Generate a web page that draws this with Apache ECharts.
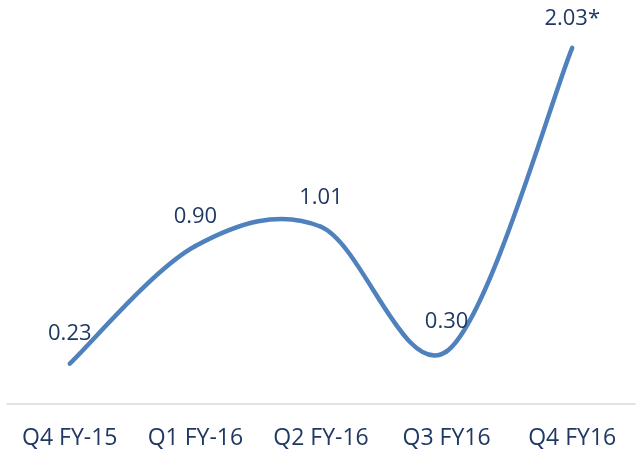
<!DOCTYPE html>
<html><head><meta charset="utf-8">
<script src="https://cdn.jsdelivr.net/npm/echarts@6/dist/echarts.min.js"></script>
<style>html,body{margin:0;padding:0;background:#fff}#c{width:641px;height:453px}</style>
</head><body><div id="c"></div>
<script>
var categories = ['Q4 FY-15', 'Q1 FY-16', 'Q2 FY-16', 'Q3 FY16', 'Q4 FY16'];
var values = [0.23, 0.90, 1.01, 0.30, 2.03];
var labelSuffix = ['', '', '', '', '*'];

var textColor = '#1f3864';
var lineColor = '#4f81bd';

function pt(api, j) {
  j = Math.max(0, Math.min(values.length - 1, j));
  return api.coord([j, values[j]]);
}

// Excel-style smoothed line: cubic Bezier segments with Catmull-Rom tangents (1/6)
function renderSegment(params, api) {
  var i = params.dataIndex;
  if (i >= values.length - 1) return null;
  var p0 = pt(api, i - 1), p1 = pt(api, i), p2 = pt(api, i + 1), p3 = pt(api, i + 2);
  return {
    type: 'bezierCurve',
    shape: {
      x1: p1[0], y1: p1[1],
      cpx1: p1[0] + (p2[0] - p0[0]) / 6, cpy1: p1[1] + (p2[1] - p0[1]) / 6,
      cpx2: p2[0] - (p3[0] - p1[0]) / 6, cpy2: p2[1] - (p3[1] - p1[1]) / 6,
      x2: p2[0], y2: p2[1]
    },
    style: {stroke: lineColor, lineWidth: 4.5, fill: null, lineCap: 'round', lineJoin: 'round'}
  };
}

var chart = echarts.init(document.getElementById('c'), null, {renderer: 'canvas'});
chart.setOption({
  animation: false,
  grid: {left: 7, right: 6, top: 18, bottom: 49, containLabel: false},
  xAxis: {
    type: 'category', data: categories, boundaryGap: true,
    axisLine: {show: true, lineStyle: {color: '#d9d9d9', width: 1.5}},
    axisTick: {show: false},
    axisLabel: {color: textColor, fontFamily: 'Open Sans', fontSize: 23, margin: 23, interval: 0}
  },
  yAxis: {
    type: 'value', min: 0, max: 2.2, show: false,
    splitLine: {show: false}
  },
  series: [{
    type: 'custom',
    data: values.map(function (v, i) { return [i, v]; }),
    renderItem: renderSegment,
    clip: false,
    silent: true
  }, {
    type: 'scatter',
    data: values.map(function (v, i) { return [i, v]; }),
    symbolSize: 1,
    silent: true,
    itemStyle: {color: 'rgba(0,0,0,0)', opacity: 1},
    label: {
      show: true, position: 'top', distance: 18, opacity: 1,
      color: textColor, fontFamily: 'Open Sans', fontSize: 22,
      formatter: function (p) { return p.value[1].toFixed(2) + labelSuffix[p.dataIndex]; }
    }
  }]
});
</script></body></html>
